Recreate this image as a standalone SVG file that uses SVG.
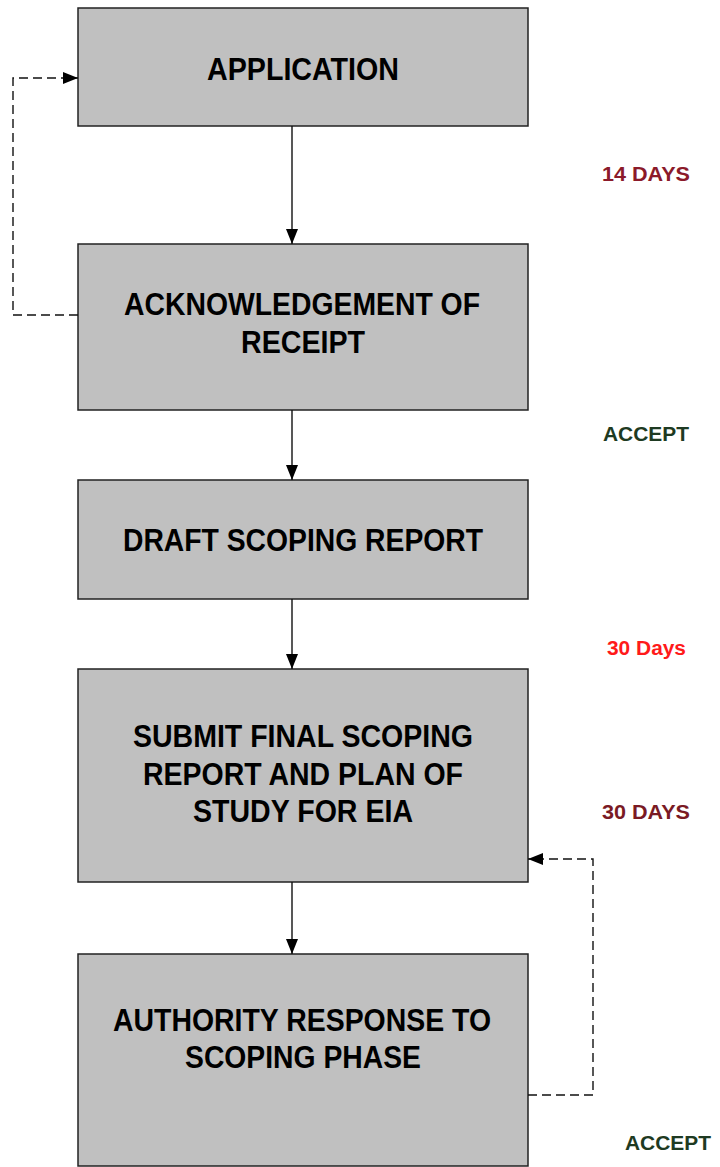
<svg xmlns="http://www.w3.org/2000/svg" width="720" height="1167" viewBox="0 0 720 1167">
<defs>
<marker id="ah" markerWidth="15" markerHeight="12" refX="15" refY="6" orient="auto" markerUnits="userSpaceOnUse">
<path d="M0,0 L15,6 L0,12 Z" fill="#000"/>
</marker>
<style>
.box{fill:#c0c0c0;stroke:#222;stroke-width:1.5}
.t{font-family:"Liberation Sans",Arial,sans-serif;font-weight:bold;font-size:31px;fill:#000;text-anchor:middle}
.lbl{font-family:"Liberation Sans",Arial,sans-serif;font-weight:bold;font-size:20px}
.solid{stroke:#111;stroke-width:1.4;fill:none}
.dash{stroke:#111;stroke-width:1.4;fill:none;stroke-dasharray:9,5}
</style>
</defs>
<rect width="720" height="1167" fill="#fff"/>
<g id="application">
<rect class="box" x="78" y="8" width="450" height="118"/>
<text class="t" x="303" y="80" textLength="192" lengthAdjust="spacingAndGlyphs">APPLICATION</text>
</g>
<g id="acknowledgement">
<rect class="box" x="78" y="244" width="450" height="166"/>
<text class="t" x="302" y="315" textLength="356" lengthAdjust="spacingAndGlyphs">ACKNOWLEDGEMENT OF</text>
<text class="t" x="303" y="353" textLength="124" lengthAdjust="spacingAndGlyphs">RECEIPT</text>
</g>
<g id="draft">
<rect class="box" x="78" y="480" width="450" height="119"/>
<text class="t" x="303" y="551" textLength="360" lengthAdjust="spacingAndGlyphs">DRAFT SCOPING REPORT</text>
</g>
<g id="submit">
<rect class="box" x="78" y="669" width="450" height="213"/>
<text class="t" x="303" y="747" textLength="340" lengthAdjust="spacingAndGlyphs">SUBMIT FINAL SCOPING</text>
<text class="t" x="303" y="785" textLength="320" lengthAdjust="spacingAndGlyphs">REPORT AND PLAN OF</text>
<text class="t" x="303" y="822" textLength="220" lengthAdjust="spacingAndGlyphs">STUDY FOR EIA</text>
</g>
<g id="authority">
<rect class="box" x="78" y="954" width="450" height="212"/>
<text class="t" x="302" y="1031" textLength="378" lengthAdjust="spacingAndGlyphs">AUTHORITY RESPONSE TO</text>
<text class="t" x="303" y="1068" textLength="236" lengthAdjust="spacingAndGlyphs">SCOPING PHASE</text>
</g>
<g id="connectors">
<line class="solid" x1="292" y1="126" x2="292" y2="244" marker-end="url(#ah)"/>
<line class="solid" x1="292" y1="410" x2="292" y2="480" marker-end="url(#ah)"/>
<line class="solid" x1="292" y1="599" x2="292" y2="669" marker-end="url(#ah)"/>
<line class="solid" x1="292" y1="882" x2="292" y2="954" marker-end="url(#ah)"/>
<path class="dash" d="M78,315 H13 V78 H78" marker-end="url(#ah)"/>
<path class="dash" d="M528,1095 H593 V859 H528" marker-end="url(#ah)"/>
</g>
<g id="labels">
<text class="lbl" x="602" y="181" fill="#8b1a2a" textLength="88" lengthAdjust="spacingAndGlyphs">14 DAYS</text>
<text class="lbl" x="603" y="441" fill="#1e3a22" textLength="86" lengthAdjust="spacingAndGlyphs">ACCEPT</text>
<text class="lbl" x="607" y="655" fill="#ff1a1a" textLength="79" lengthAdjust="spacingAndGlyphs">30 Days</text>
<text class="lbl" x="602" y="819" fill="#7a1a24" textLength="88" lengthAdjust="spacingAndGlyphs">30 DAYS</text>
<text class="lbl" x="625" y="1150" fill="#1e3a22" textLength="86" lengthAdjust="spacingAndGlyphs">ACCEPT</text>
</g>
</svg>
